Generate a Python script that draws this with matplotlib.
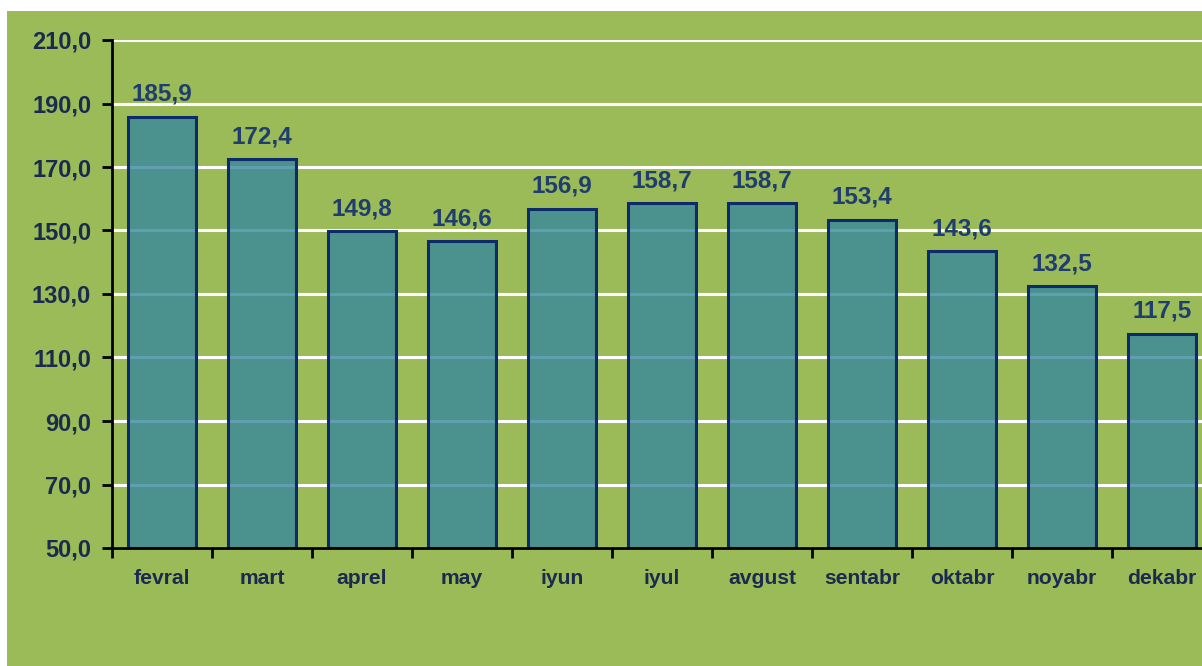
import matplotlib
matplotlib.use("Agg")
import matplotlib.pyplot as plt
from matplotlib.patches import Rectangle
import numpy as np

months = ["fevral", "mart", "aprel", "may", "iyun", "iyul", "avgust",
          "sentabr", "oktabr", "noyabr", "dekabr"]
values = [185.9, 172.4, 149.8, 146.6, 156.9, 158.7, 158.7, 153.4, 143.6, 132.5, 117.5]
yticks = [50, 70, 90, 110, 130, 150, 170, 190, 210]

W, H = 1202, 666
fig = plt.figure(figsize=(W / 100, H / 100), dpi=100)
fig.patch.set_facecolor("white")
green = "#9BBB59"
bg = Rectangle((7 / W, 0), 1, (H - 11) / H, transform=fig.transFigure,
               facecolor=green, edgecolor="none", zorder=-10)
fig.add_artist(bg)

ax = fig.add_axes([112 / W, 1 - 548 / H, 1100 / W, (548 - 40) / H])
ax.set_facecolor("none")
ax.set_zorder(1)

text_col = "#1B2A4E"
label_col = "#1F3D6E"
x = np.arange(len(months))
ax.bar(x, [v - 50 for v in values], bottom=50, width=0.68,
       color=(55 / 255, 135 / 255, 155 / 255, 0.8),
       edgecolor="#0D2A6B", linewidth=2.2, zorder=3)
for xi, v in zip(x, values):
    ax.text(xi, v + 3.4, f"{v:.1f}".replace(".", ","), ha="center", va="bottom",
            fontsize=17.5, fontweight="bold", color=label_col,
            family="Liberation Sans", zorder=4)

ax.set_xlim(-0.5, len(months) - 0.5)
ax.set_ylim(50, 210)
ax.set_yticks(yticks)
ax.set_yticklabels([f"{t:.1f}".replace(".", ",") for t in yticks],
                   fontsize=17, fontweight="bold", color=text_col,
                   family="Liberation Sans")
ax.set_xticks(x)
ax.set_xticklabels(months, fontsize=15.2, fontweight="bold", color=text_col,
                   family="Liberation Sans")
ax.tick_params(axis="x", which="major", length=0, pad=15)
ax.set_xticks(np.arange(-0.5, len(months), 1.0), minor=True)
ax.tick_params(axis="x", which="minor", length=7, width=2, color="black", direction="out")
ax.tick_params(axis="y", length=7, width=2, color="black", direction="out", pad=8)

ax.grid(axis="y", color="white", linewidth=2.2, zorder=1)
ax.set_axisbelow(True)
for s in ["top", "right"]:
    ax.spines[s].set_visible(False)
for s in ["left", "bottom"]:
    ax.spines[s].set_color("black")
    ax.spines[s].set_linewidth(2)
    ax.spines[s].set_zorder(5)

fig.savefig("out.png", dpi=100, facecolor=fig.get_facecolor())
